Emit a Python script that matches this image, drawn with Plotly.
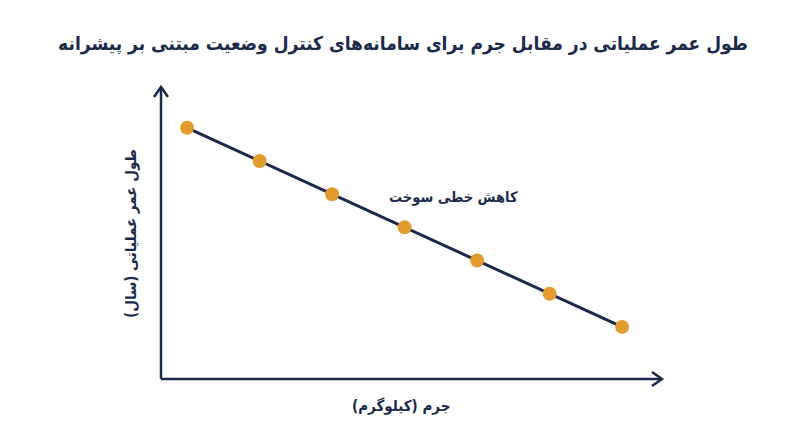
import plotly.graph_objects as go

# Data (arbitrary units; no tick labels shown in the reference)
mass = [1, 2, 3, 4, 5, 6, 7]
lifetime = [7, 6, 5, 4, 3, 2, 1]

title_text = "طول عمر عملیاتی در مقابل جرم برای سامانه‌های کنترل وضعیت مبتنی بر پیشرانه"
x_label = "جرم (کیلوگرم)"
y_label = "طول عمر عملیاتی (سال)"
note_text = "کاهش خطی سوخت"

NAVY = "#1b2a4a"
ORANGE = "#e19c2f"
FONT = "DejaVu Sans Condensed, DejaVu Sans"

# page body has an 8px default margin; compensate so the plot lands where the reference has it
OFF = 8
W, H = 800, 447
L, R, T, B = 161 - OFF, W - 662 + OFF, 87 - OFF, H - 379 + OFF
PH = H - T - B

fig = go.Figure()
fig.add_trace(go.Scatter(
    x=mass, y=lifetime, mode="lines+markers",
    line=dict(color=NAVY, width=3),
    marker=dict(color=ORANGE, size=14, line=dict(width=0)),
    hoverinfo="skip", showlegend=False,
))

shapes = [
    dict(type="line", xref="paper", yref="paper", x0=0, x1=0, y0=0, y1=1,
         line=dict(color=NAVY, width=2.5)),
    dict(type="line", xref="paper", yref="paper", x0=0, x1=1, y0=0, y1=0,
         line=dict(color=NAVY, width=2.5)),
    dict(type="path", xref="paper", yref="paper", xsizemode="pixel", ysizemode="pixel",
         xanchor=0, yanchor=1, path="M -7 -10 L 0 0 L 7 -10",
         line=dict(color=NAVY, width=2.5)),
    dict(type="path", xref="paper", yref="paper", xsizemode="pixel", ysizemode="pixel",
         xanchor=1, yanchor=0, path="M -10 7 L 0 0 L -10 -7",
         line=dict(color=NAVY, width=2.5)),
]

fig.update_layout(
    width=W, height=H,
    margin=dict(l=L, r=R, t=T, b=B),
    paper_bgcolor="white", plot_bgcolor="white",
    title=dict(text="<b>" + title_text + "</b>", x=(403 - OFF) / W, xanchor="center",
               y=1 - (43 - OFF) / H, yanchor="middle",
               font=dict(family=FONT, size=19, color=NAVY)),
    xaxis=dict(range=[0.64, 7.55], showgrid=False, zeroline=False,
               showticklabels=False, showline=False, ticks=""),
    yaxis=dict(range=[-0.57, 8.23], showgrid=False, zeroline=False,
               showticklabels=False, showline=False, ticks=""),
    shapes=shapes,
    annotations=[
        dict(text="<b>" + note_text + "</b>", x=4.67, y=4.89, xref="x", yref="y", showarrow=False,
             font=dict(family=FONT, size=14.5, color=NAVY)),
        dict(text="<b>" + x_label + "</b>", x=(401 - 161) / 501, y=(379 - 406) / PH,
             xref="paper", yref="paper", showarrow=False, xanchor="center", yanchor="middle",
             font=dict(family=FONT, size=15, color=NAVY)),
        dict(text="<b>" + y_label + "</b>", x=(131 - 161) / 501, y=(379 - 234) / PH,
             xref="paper", yref="paper", showarrow=False, textangle=-90,
             xanchor="center", yanchor="middle",
             font=dict(family=FONT, size=15, color=NAVY)),
    ],
)

fig.write_html("out.html")
